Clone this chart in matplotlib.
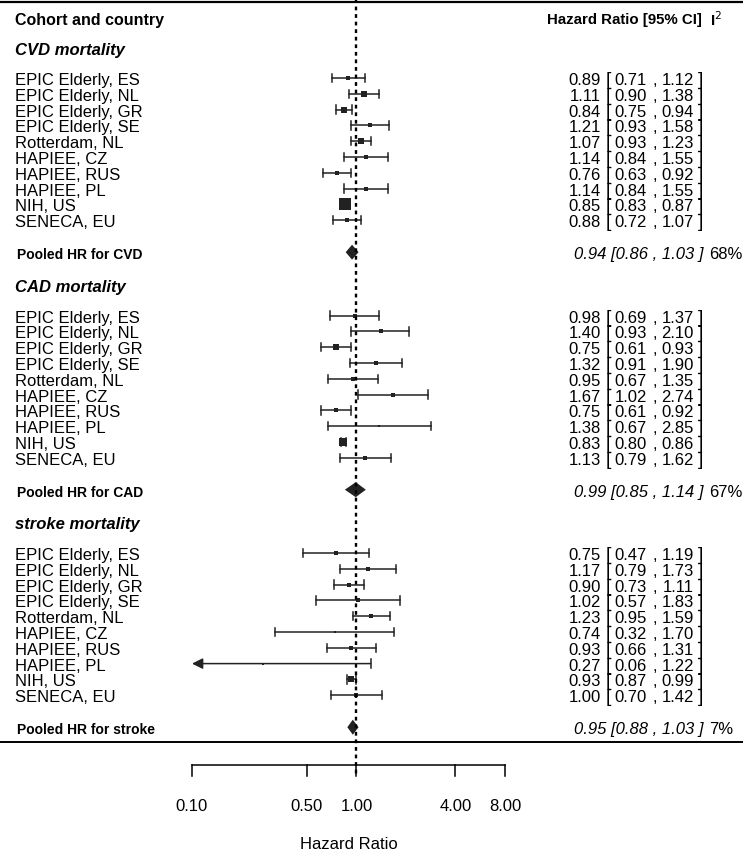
import numpy as np
import matplotlib
matplotlib.use("Agg")
import matplotlib.pyplot as plt
from matplotlib import transforms

plt.rcParams['font.family'] = ['Liberation Sans', 'DejaVu Sans']

cohorts = ["EPIC Elderly, ES", "EPIC Elderly, NL", "EPIC Elderly, GR", "EPIC Elderly, SE",
           "Rotterdam, NL", "HAPIEE, CZ", "HAPIEE, RUS", "HAPIEE, PL", "NIH, US", "SENECA, EU"]

sections = ["CVD mortality", "CAD mortality", "stroke mortality"]
pooled_labels = ["Pooled HR for CVD", "Pooled HR for CAD", "Pooled HR for stroke"]

cvd_hr = [0.89, 1.11, 0.84, 1.21, 1.07, 1.14, 0.76, 1.14, 0.85, 0.88]
cvd_lo = [0.71, 0.90, 0.75, 0.93, 0.93, 0.84, 0.63, 0.84, 0.83, 0.72]
cvd_hi = [1.12, 1.38, 0.94, 1.58, 1.23, 1.55, 0.92, 1.55, 0.87, 1.07]
cvd_w = [5, 6, 6, 5, 7, 4, 5, 4, 12, 5]

cad_hr = [0.98, 1.40, 0.75, 1.32, 0.95, 1.67, 0.75, 1.38, 0.83, 1.13]
cad_lo = [0.69, 0.93, 0.61, 0.91, 0.67, 1.02, 0.61, 0.67, 0.80, 0.79]
cad_hi = [1.37, 2.10, 0.93, 1.90, 1.35, 2.74, 0.92, 2.85, 0.86, 1.62]
cad_w = [5, 5, 6, 5, 5, 4, 5, 3, 9, 4]

stroke_hr = [0.75, 1.17, 0.90, 1.02, 1.23, 0.74, 0.93, 0.27, 0.93, 1.00]
stroke_lo = [0.47, 0.79, 0.73, 0.57, 0.95, 0.32, 0.66, 0.06, 0.87, 0.70]
stroke_hi = [1.19, 1.73, 1.11, 1.83, 1.59, 1.70, 1.31, 1.22, 0.99, 1.42]
stroke_w = [4, 4, 5, 5, 4, 3, 4, 3, 7, 4]

pooled_hr = [0.94, 0.99, 0.95]
pooled_lo = [0.86, 0.85, 0.88]
pooled_hi = [1.03, 1.14, 1.03]
i2 = ["68%", "67%", "7%"]

ticks = [0.10, 0.50, 1.00, 4.00, 8.00]

W, H = 743, 853
fig = plt.figure(figsize=(W / 100, H / 100), dpi=100)
ax = fig.add_axes([0, 0, 1, 1])
ax.set_xscale('log')

# log axis placed so 0.1 -> 192 px and 8 -> 505 px
ppu = (505 - 192) / np.log(8 / 0.1)
x_one = 192 + ppu * np.log(1 / 0.1)
ax.set_xlim(np.exp((0 - x_one) / ppu), np.exp((W - x_one) / ppu))
ax.set_ylim(H, 0)
ax.axis('off')

# text uses pixel x, data y
tr = transforms.blended_transform_factory(ax.transAxes, ax.transData)


def px(x):
    return x / W


xmin = ticks[0]
row_h = 15.8
sec_h = 237.5
cap = 4.2
ink = '#222222'

all_hr = [cvd_hr, cad_hr, stroke_hr]
all_lo = [cvd_lo, cad_lo, stroke_lo]
all_hi = [cvd_hi, cad_hi, stroke_hi]
all_w = [cvd_w, cad_w, stroke_w]

# header
ax.axhline(3, color='black', lw=1.6)
ax.text(px(15), 20, "Cohort and country", transform=tr, fontsize=11.5, fontweight='bold', va='center')
ax.text(px(702), 20, "Hazard Ratio [95% CI]", transform=tr, fontsize=10.8, fontweight='bold',
        va='center', ha='right')
ax.text(px(710), 20, "I$^{2}$", transform=tr, fontsize=11, fontweight='bold', va='center')

for s in range(3):
    head_y = 50 + s * sec_h
    ax.text(px(15), head_y, sections[s], transform=tr, fontsize=12, fontweight='bold',
            fontstyle='italic', va='center')

    for i, name in enumerate(cohorts):
        y = head_y + 29 + i * row_h
        hr, lo, hi, w = all_hr[s][i], all_lo[s][i], all_hi[s][i], all_w[s][i]

        ax.text(px(15), y + 1.5, name, transform=tr, fontsize=12, va='center')

        if lo < xmin:
            ax.annotate('', xy=(xmin, y), xytext=(hi, y),
                        arrowprops=dict(arrowstyle='-|>', color=ink, lw=1.1,
                                        mutation_scale=16, shrinkA=0, shrinkB=0))
        else:
            ax.plot([lo, hi], [y, y], color=ink, lw=1.1)
            ax.plot([lo, lo], [y - cap, y + cap], color=ink, lw=1.1)
        ax.plot([hi, hi], [y - cap, y + cap], color=ink, lw=1.1)
        ax.plot(hr, y, marker='s', color=ink, markersize=w / 1.389, mew=0)

        ax.text(px(601), y + 1.5, f"{hr:.2f}", transform=tr, fontsize=12, va='center', ha='right')
        ax.text(px(606), y + 1.5, "[", transform=tr, fontsize=14, va='center', ha='left')
        ax.text(px(647), y + 1.5, f"{lo:.2f}", transform=tr, fontsize=12, va='center', ha='right')
        ax.text(px(655), y + 1.5, ",", transform=tr, fontsize=12, va='center', ha='center')
        ax.text(px(694), y + 1.5, f"{hi:.2f}", transform=tr, fontsize=12, va='center', ha='right')
        ax.text(px(698), y + 1.5, "]", transform=tr, fontsize=14, va='center', ha='left')

    py = head_y + 29 + 9 * row_h + 32
    ax.text(px(17), py + 2, pooled_labels[s], transform=tr, fontsize=10, fontweight='bold', va='center')
    ax.fill([pooled_lo[s], pooled_hr[s], pooled_hi[s], pooled_hr[s]],
            [py, py - 7.5, py, py + 7.5], color=ink, lw=0)
    ax.text(px(704), py + 1.5,
            f"{pooled_hr[s]:.2f} [{pooled_lo[s]:.2f} , {pooled_hi[s]:.2f} ]",
            transform=tr, fontsize=12, fontstyle='italic', va='center', ha='right')
    ax.text(px(709), py + 1.5, i2[s], transform=tr, fontsize=12, va='center', ha='left')

ax.axhline(743, color='black', lw=1.4)

# reference line at HR = 1
ax.plot([1, 1], [0, 776], color='black', lw=1.7, linestyle=(0, (1.6, 1.6)))

# bottom axis
axis_y = 766
ax.plot([ticks[0], ticks[-1]], [axis_y, axis_y], color='black', lw=1.1)
for t in ticks:
    ax.plot([t, t], [axis_y, axis_y + 11], color='black', lw=1.1)
    ax.text(t, 807, f"{t:.2f}", fontsize=12, ha='center', va='center')
ax.text(px(349), 845, "Hazard Ratio", transform=tr, fontsize=12, ha='center', va='center')

fig.savefig("out.png", dpi=100)
